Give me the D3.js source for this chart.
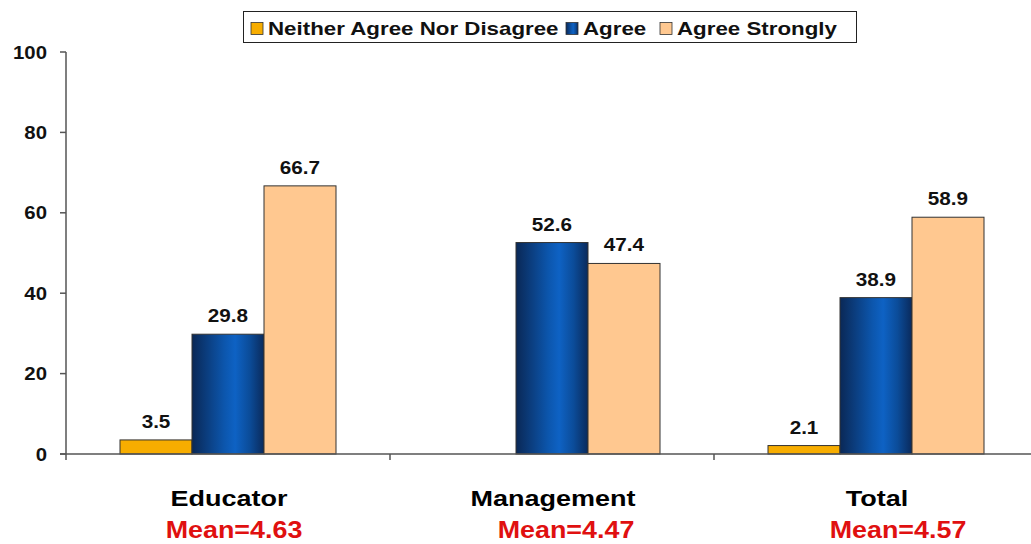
<!DOCTYPE html>
<html><head><meta charset="utf-8">
<script src="https://cdn.jsdelivr.net/npm/d3@7"></script>
<style>body{margin:0;background:#fff}svg{display:block}</style>
</head><body>
<svg id="c" width="1031" height="544"></svg>
<script>
const categories = ["Educator", "Management", "Total"];
const means = ["Mean=4.63", "Mean=4.47", "Mean=4.57"];
const seriesNames = ["Neither Agree Nor Disagree", "Agree", "Agree Strongly"];
const neither = [3.5, null, 2.1];
const agree = [29.8, 52.6, 38.9];
const agreeStrongly = [66.7, 47.4, 58.9];
const yTicks = [0, 20, 40, 60, 80, 100];

const seriesValues = [neither, agree, agreeStrongly];
const fills = ["#f7ad00", "url(#blueGrad)", "#ffc890"];
const meanShift = [6, 14, 22];

const svg = d3.select("#c");
const defs = svg.append("defs");
const g = defs.append("linearGradient").attr("id", "blueGrad").attr("x1", "0").attr("x2", "1").attr("y1", "0").attr("y2", "0");
[[0, "#0a2856"], [0.45, "#0c56ad"], [0.6, "#0e62c4"], [0.8, "#0b4c99"], [1, "#0a2a5c"]]
  .forEach(([o, c]) => g.append("stop").attr("offset", o).attr("stop-color", c));

const x0 = d3.scaleBand().domain(categories).range([66, 1038]).padding(0);
const x1 = d3.scaleBand().domain(seriesNames).range([-108, 108]).padding(0);
const y = d3.scaleLinear().domain([0, 100]).range([454, 52]);

function stext(sel, x, y, anchor, size, sx) {
  return sel.attr("transform", `translate(${x},${y}) scale(${sx},1)`).attr("text-anchor", anchor)
    .attr("font-family", "'Liberation Sans', Arial, sans-serif").attr("font-weight", "bold")
    .attr("font-size", size);
}

// bars
categories.forEach((cat, i) => {
  const cx = x0(cat) + x0.bandwidth() / 2;
  seriesNames.forEach((s, j) => {
    const v = seriesValues[j][i];
    if (v == null) return;
    svg.append("rect")
      .attr("x", cx + x1(s)).attr("y", y(v))
      .attr("width", x1.bandwidth()).attr("height", y(0) - y(v))
      .attr("fill", fills[j]).attr("stroke", "#333").attr("stroke-width", 1);
    stext(svg.append("text"), cx + x1(s) + x1.bandwidth() / 2, y(v) - 12, "middle", 18, 1.15)
      .attr("fill", "#111").text(v.toFixed(1));
  });
});

// y axis
const axisColor = "#555";
svg.append("line").attr("x1", 66).attr("x2", 66).attr("y1", y(100)).attr("y2", y(0) + 6)
  .attr("stroke", axisColor).attr("stroke-width", 1.5);
yTicks.forEach(t => {
  svg.append("line").attr("x1", 60).attr("x2", 66).attr("y1", y(t)).attr("y2", y(t))
    .attr("stroke", axisColor).attr("stroke-width", 1.5);
  stext(svg.append("text"), 47, y(t) + 6.5, "end", 18.5, 1.1)
    .attr("fill", "#111").text(t);
});

// x axis
svg.append("line").attr("x1", 60).attr("x2", 1038).attr("y1", y(0)).attr("y2", y(0))
  .attr("stroke", axisColor).attr("stroke-width", 1.5);
categories.slice(1).forEach(cat => {
  svg.append("line").attr("x1", x0(cat)).attr("x2", x0(cat)).attr("y1", y(0)).attr("y2", y(0) + 6)
    .attr("stroke", axisColor).attr("stroke-width", 1.5);
});

// category labels
categories.forEach((cat, i) => {
  const cx = x0(cat) + x0.bandwidth() / 2;
  stext(svg.append("text"), cx + 1, 506, "middle", 22.5, 1.2)
    .attr("fill", "#000").text(cat);
  stext(svg.append("text"), cx + meanShift[i], 538, "middle", 24, 1.12)
    .attr("fill", "#e01010").text(means[i]);
});

// legend
svg.append("rect").attr("x", 243.5).attr("y", 11.5).attr("width", 613).attr("height", 31)
  .attr("fill", "#fff").attr("stroke", "#222").attr("stroke-width", 1);
const legX = [251, 566, 660];
seriesNames.forEach((s, j) => {
  svg.append("rect").attr("x", legX[j]).attr("y", 22.5).attr("width", 12).attr("height", 12)
    .attr("fill", fills[j]).attr("stroke", "#333").attr("stroke-width", 0.8);
  stext(svg.append("text"), legX[j] + 17, 34.5, "start", 18, 1.24)
    .attr("fill", "#111").text(s);
});
</script>
</body></html>
